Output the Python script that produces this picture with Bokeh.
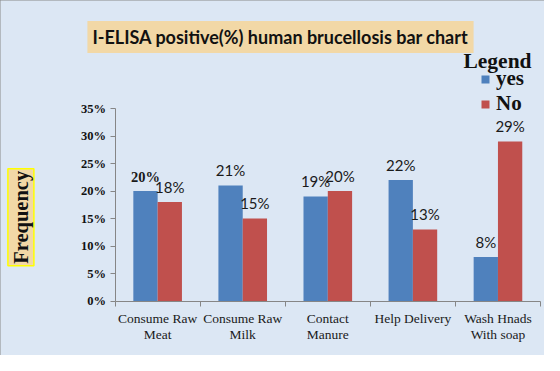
import math
from bokeh.plotting import figure
from bokeh.models import (ColumnDataSource, LabelSet, Label, FixedTicker, Legend,
                          LegendItem, Range1d)
from bokeh.embed import file_html
from bokeh.resources import INLINE

# ---------------- data ----------------
categories = ["Consume Raw\nMeat", "Consume Raw\nMilk", "Contact\nManure",
              "Help Delivery", "Wash Hnads\nWith soap"]
yes_values = [20, 21, 19, 22, 8]
no_values = [18, 15, 20, 13, 29]
series_names = ["yes", "No"]
y_ticks = [0, 5, 10, 15, 20, 25, 30, 35]
y_tick_labels = ["0%", "5%", "10%", "15%", "20%", "25%", "30%", "35%"]
title_text = "I-ELISA positive(%) human brucellosis bar chart"
y_title = "Frequency"
legend_title = "Legend"

# ---------------- layout (canvas pixels) ----------------
W, H = 544, 355
PL, PR, PT, PB = 114.6, 540.0, 108.1, 300.5   # plot area edges
n = len(categories)
YMAX = y_ticks[-1]
kx = (PR - PL) / n
ky = (PB - PT) / YMAX

BG = "#DCE7F4"
BLUE = "#4F81BD"
RED = "#C0504D"
TAN = "#F2D8A6"
AXIS = "#868686"
INK = "#111111"


def xd(cx):
    return (cx - PL) / kx


def yd(cy):
    return (PB - cy) / ky


p = figure(width=W, height=H,
           x_range=Range1d(xd(0), xd(W)), y_range=Range1d(yd(H), yd(0)),
           output_backend="svg", toolbar_location=None, title=None,
           min_border=0)
p.background_fill_color = BG
p.border_fill_color = BG
p.outline_line_color = None
p.xgrid.visible = False
p.ygrid.visible = False
p.styles = {"outline": "1px solid #8a8a8a", "outline-offset": "-1px"}

bw = 25 / 87.5
yes_x = [i + 0.5 - bw / 2 for i in range(n)]
no_x = [i + 0.5 + bw / 2 for i in range(n)]

r_yes = p.vbar(x=yes_x, top=yes_values, width=bw, bottom=0, fill_color=BLUE, line_color=None)
r_no = p.vbar(x=no_x, top=no_values, width=bw, bottom=0, fill_color=RED, line_color=None)


# value labels
def label_source(xs, vals, first_special):
    fonts, styles, sizes = [], [], []
    for i in range(len(vals)):
        if first_special and i == 0:
            fonts.append("Liberation Serif"); styles.append("bold"); sizes.append("14.5px")
        else:
            fonts.append("Lato"); styles.append("normal"); sizes.append("15px")
    return ColumnDataSource(dict(x=xs, y=vals, text=[f"{v}%" for v in vals],
                                 font=fonts, style=styles, size=sizes))


for xs, vals, special in ((yes_x, yes_values, True), (no_x, no_values, False)):
    p.add_layout(LabelSet(x="x", y="y", text="text", source=label_source(xs, vals, special),
                          text_align="center", text_baseline="alphabetic", y_offset=9.5,
                          text_font="font", text_font_style="style", text_font_size="size",
                          text_color="#1a1a1a"))

# y axis
yax = p.yaxis[0]
yax.fixed_location = 0
yax.bounds = (0, YMAX)
yax.ticker = FixedTicker(ticks=y_ticks)
yax.major_label_overrides = {t: lab for t, lab in zip(y_ticks, y_tick_labels)}
yax.major_label_text_font = "Liberation Serif"
yax.major_label_text_font_style = "bold"
yax.major_label_text_font_size = "12.5px"
yax.major_label_text_color = INK
yax.major_label_standoff = 4
yax.axis_line_color = AXIS
yax.major_tick_line_color = AXIS
yax.major_tick_in = 0
yax.major_tick_out = 5
yax.minor_tick_line_color = None

# x axis: labels at category centres, tick marks at category boundaries
cat_x = [i + 0.5 for i in range(n)]
xax = p.xaxis[0]
xax.fixed_location = 0
xax.bounds = (0, n)
xax.ticker = FixedTicker(ticks=cat_x, minor_ticks=list(range(n + 1)))
xax.major_label_overrides = {c: lab for c, lab in zip(cat_x, categories)}
xax.major_label_text_font = "Liberation Serif"
xax.major_label_text_font_size = "13.5px"
xax.major_label_text_color = "#1a1a1a"
xax.major_label_text_line_height = 1.05
xax.major_label_standoff = 5
xax.axis_line_color = AXIS
xax.major_tick_line_color = None
xax.major_tick_out = 0
xax.major_tick_in = 0
xax.minor_tick_line_color = AXIS
xax.minor_tick_in = 0
xax.minor_tick_out = 5

# title
p.add_layout(Label(x=xd(280), y=yd(36.4), text=title_text, text_align="center",
                   text_baseline="middle", text_font="Lato", text_font_style="bold",
                   text_font_size="18px", text_color=INK,
                   background_fill_color=TAN, padding=5))

# y title
p.add_layout(Label(x=xd(20.4), y=yd(216.8), text=y_title, angle=math.pi / 2,
                   text_align="center", text_baseline="middle",
                   text_font="Liberation Serif", text_font_style="bold",
                   text_font_size="20.5px", text_color=INK,
                   background_fill_color=TAN, border_line_color="#FFFF00",
                   border_line_width=1.5, padding=2))

# legend
p.add_layout(Label(x=xd(497), y=yd(60), text=legend_title, text_align="center",
                   text_baseline="alphabetic", text_font="Liberation Serif",
                   text_font_style="bold", text_font_size="21.5px", text_color=INK))
legend = Legend(items=[LegendItem(label=series_names[0], renderers=[r_yes]),
                       LegendItem(label=series_names[1], renderers=[r_no])],
                location=(480, round(H - 115.6)), padding=0, spacing=0, margin=0,
                glyph_width=10, glyph_height=10, label_standoff=6, label_height=24,
                label_text_font="Liberation Serif", label_text_font_style="bold",
                label_text_font_size="21px", label_text_color=INK,
                background_fill_alpha=0, border_line_color=None)
p.add_layout(legend, "center")

open("out.html", "w").write(file_html(p, INLINE))
